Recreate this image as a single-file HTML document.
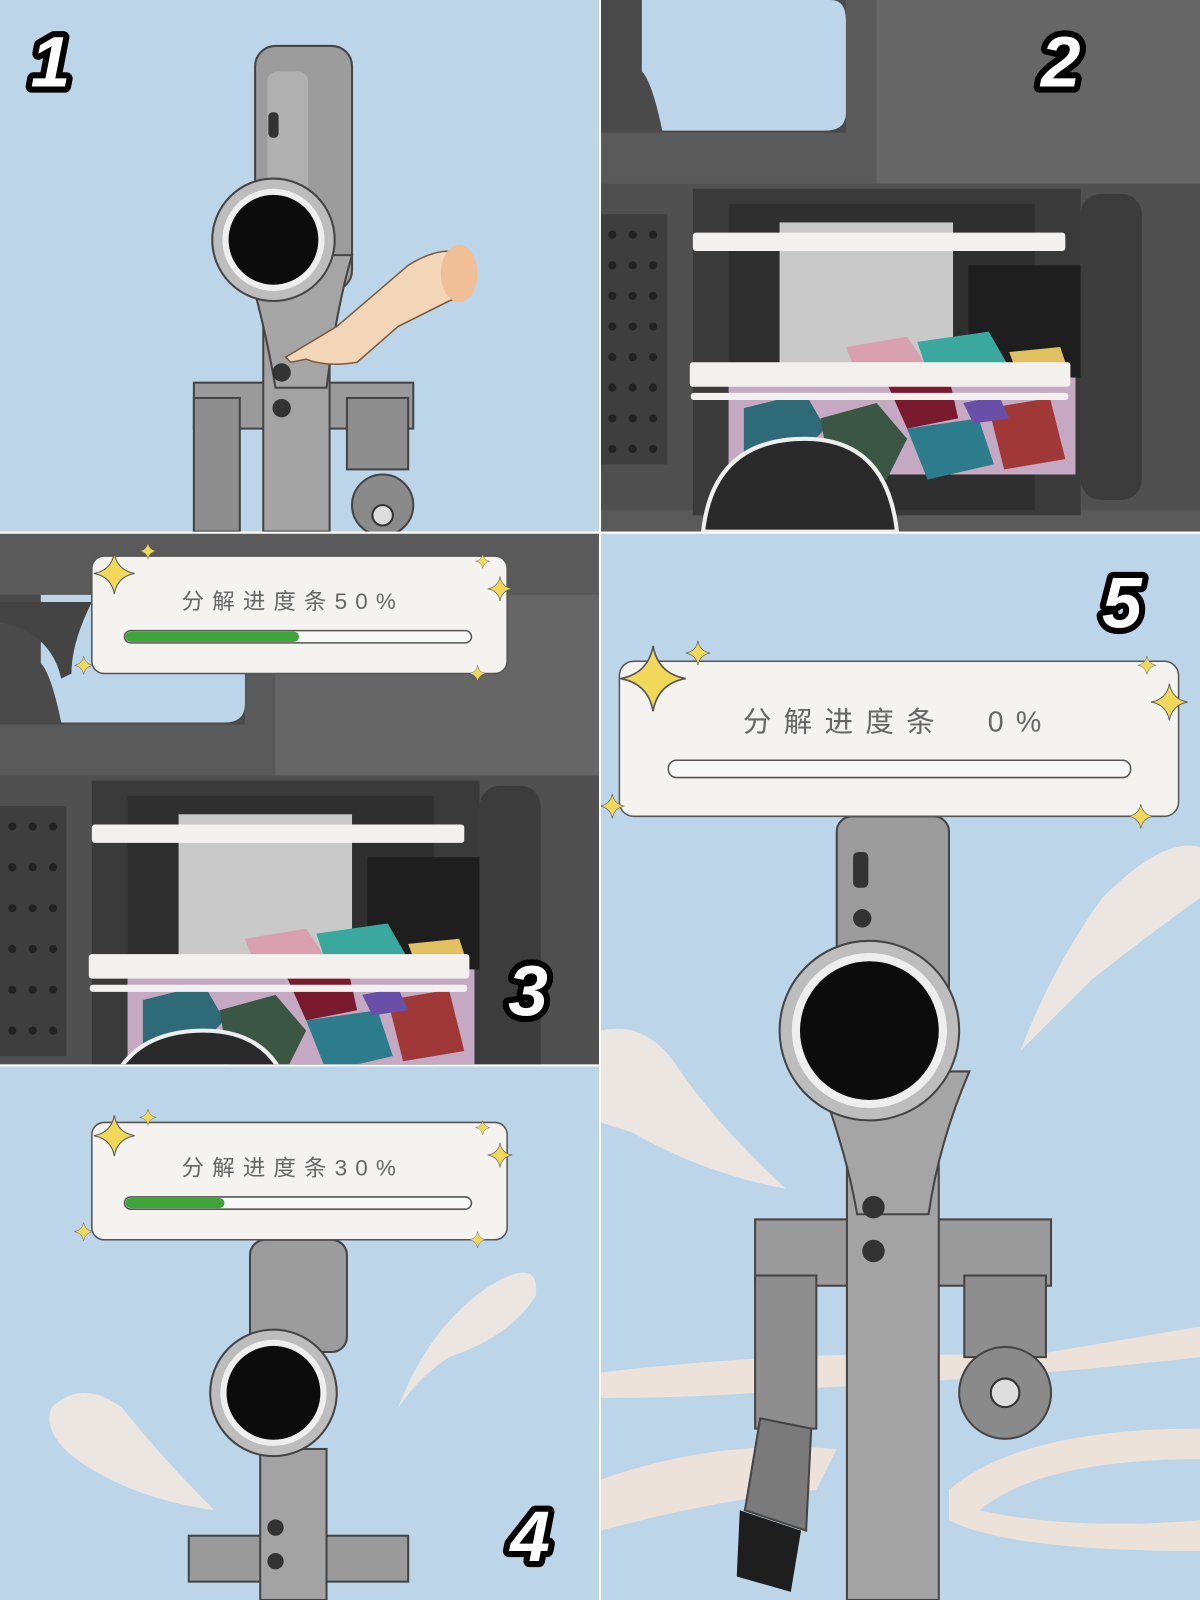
<!DOCTYPE html>
<html><head><meta charset="utf-8"><style>
html,body{margin:0;padding:0;background:#fff;width:1200px;height:1600px;overflow:hidden}
svg{display:block}
.num{font-family:"Liberation Sans",sans-serif;font-weight:bold;font-style:italic;font-size:70px;fill:#fff;stroke:#000;stroke-width:12px;paint-order:stroke;stroke-linejoin:round}
.cap{font-family:"Liberation Sans","Noto Sans CJK SC",sans-serif;fill:#666;letter-spacing:8px}
</style></head><body>
<svg width="1200" height="1600" viewBox="0 0 1176 1568" preserveAspectRatio="none" xmlns="http://www.w3.org/2000/svg">
<defs>
<clipPath id="c1"><rect x="0" y="0" width="587" height="521"/></clipPath>
<clipPath id="c2"><rect x="589" y="0" width="587" height="521"/></clipPath>
<clipPath id="c3"><rect x="0" y="523" width="587" height="520"/></clipPath>
<clipPath id="c4"><rect x="0" y="1045" width="587" height="523"/></clipPath>
<clipPath id="c5"><rect x="589" y="523" width="587" height="1045"/></clipPath>
<path id="star" d="M0 -20 Q3 -3 20 0 Q3 3 0 20 Q-3 3 -20 0 Q-3 -3 0 -20Z" fill="#f2d85a" stroke="#555" stroke-width="1"/>
<g id="drum">
 <rect x="0" y="0" width="587" height="521" fill="#5a5a5a"/>
 <path d="M0 0 H240 V130 H0 Z" fill="#4a4a4a"/>
 <path d="M10 0 H225 Q240 0 240 20 V110 Q240 128 220 128 H60 Q50 80 40 70 L40 0 Z" fill="#bcd5e8"/>
 <rect x="270" y="0" width="317" height="195" fill="#666"/>
 <rect x="0" y="180" width="587" height="320" fill="#505050"/>
 <rect x="0" y="210" width="65" height="245" fill="#3e3e3e"/>
 <rect x="90" y="185" width="380" height="320" fill="#3a3a3a"/>
 <rect x="125" y="200" width="300" height="300" fill="#2f2f2f"/>
 <rect x="175" y="218" width="170" height="150" fill="#c9c9c9"/>
 <rect x="360" y="260" width="110" height="110" fill="#1e1e1e"/>
 <rect x="125" y="370" width="340" height="95" fill="#c5a9c2"/>
 <polygon points="140,400 200,385 220,420 180,460 140,455" fill="#2f6a78"/>
 <polygon points="215,410 270,395 300,430 280,470 225,465" fill="#3c5646"/>
 <polygon points="280,375 340,365 350,410 300,420" fill="#7a1a2e"/>
 <polygon points="300,420 370,410 385,455 320,470" fill="#2d7c8c"/>
 <polygon points="380,400 440,390 455,450 395,460" fill="#a03838"/>
 <polygon points="240,340 300,330 320,360 250,365" fill="#d8a0b0"/>
 <polygon points="310,335 380,325 400,360 320,365" fill="#3aa89c"/>
 <polygon points="400,345 450,340 460,370 410,372" fill="#e0c060"/>
 <polygon points="355,395 390,388 400,410 365,415" fill="#6a4fa8"/>
 <rect x="470" y="190" width="60" height="300" rx="20" fill="#3c3c3c"/>
 <path d="M100 521 Q110 430 200 430 Q280 430 290 521 Z" fill="#2a2a2a" stroke="#eee" stroke-width="4"/>
 <rect x="90" y="228" width="365" height="18" rx="3" fill="#f3f1ef"/>
 <rect x="87" y="355" width="373" height="24" rx="3" fill="#f3f1ef"/>
 <rect x="88" y="385" width="370" height="7" rx="3" fill="#f3f1ef"/>
</g>
</defs>

<!-- Panel 1 -->
<g clip-path="url(#c1)">
 <rect x="0" y="0" width="587" height="521" fill="#bcd5e8"/>
 <rect x="250" y="45" width="95" height="240" rx="20" fill="#9c9c9c" stroke="#444" stroke-width="2"/>
 <rect x="262" y="70" width="40" height="210" rx="10" fill="#b0b0b0"/>
 <rect x="263" y="110" width="10" height="25" rx="4" fill="#333"/>
 <rect x="190" y="375" width="215" height="45" fill="#9a9a9a" stroke="#444" stroke-width="2"/>
 <rect x="190" y="390" width="45" height="131" fill="#8e8e8e" stroke="#444" stroke-width="2"/>
 <rect x="340" y="390" width="60" height="70" fill="#8e8e8e" stroke="#444" stroke-width="2"/>
 <circle cx="375" cy="495" r="30" fill="#8a8a8a" stroke="#444" stroke-width="2"/>
 <circle cx="375" cy="505" r="10" fill="#ddd" stroke="#333" stroke-width="2"/>
 <rect x="258" y="290" width="65" height="231" fill="#a3a3a3" stroke="#444" stroke-width="2"/>
 <path d="M240 250 Q260 320 270 380 L320 380 Q330 300 345 250 Z" fill="#a5a5a5" stroke="#444" stroke-width="2"/>
 <circle cx="276" cy="365" r="9" fill="#333"/>
 <circle cx="276" cy="400" r="9" fill="#333"/>
 <circle cx="268" cy="235" r="60" fill="#bdbdbd" stroke="#444" stroke-width="2"/>
 <circle cx="268" cy="235" r="50" fill="#eee"/>
 <circle cx="268" cy="235" r="44" fill="#0c0c0c"/>
 <path d="M280 350 L330 320 L400 260 Q440 235 465 255 Q470 285 440 295 L390 320 L350 355 Q320 360 300 352 L285 355 Z" fill="#f3d6b8" stroke="#7a5a40" stroke-width="1.5"/>
 <ellipse cx="450" cy="268" rx="18" ry="28" fill="#f0bf98"/>
 <text class="num" x="30" y="85">1</text>
</g>

<!-- Panel 2 -->
<g clip-path="url(#c2)">
 <use href="#drum" x="589" y="0"/>
 <g fill="#222">
  <circle cx="600" cy="230" r="4"/><circle cx="620" cy="230" r="4"/><circle cx="640" cy="230" r="4"/>
  <circle cx="600" cy="260" r="4"/><circle cx="620" cy="260" r="4"/><circle cx="640" cy="260" r="4"/>
  <circle cx="600" cy="290" r="4"/><circle cx="620" cy="290" r="4"/><circle cx="640" cy="290" r="4"/>
  <circle cx="600" cy="320" r="4"/><circle cx="620" cy="320" r="4"/><circle cx="640" cy="320" r="4"/>
  <circle cx="600" cy="350" r="4"/><circle cx="620" cy="350" r="4"/><circle cx="640" cy="350" r="4"/>
  <circle cx="600" cy="380" r="4"/><circle cx="620" cy="380" r="4"/><circle cx="640" cy="380" r="4"/>
  <circle cx="600" cy="410" r="4"/><circle cx="620" cy="410" r="4"/><circle cx="640" cy="410" r="4"/>
  <circle cx="600" cy="440" r="4"/><circle cx="620" cy="440" r="4"/><circle cx="640" cy="440" r="4"/>
 </g>
 <text class="num" x="1020" y="85">2</text>
</g>

<!-- Panel 3 -->
<g clip-path="url(#c3)">
 <use href="#drum" x="0" y="580"/>
 <rect x="0" y="523" width="587" height="60" fill="#5a5a5a"/>
 <path d="M0 590 H90 Q70 630 70 660 L60 665 Q50 620 0 610 Z" fill="#444"/>
 <g fill="#222">
  <circle cx="12" cy="810" r="4"/><circle cx="32" cy="810" r="4"/><circle cx="52" cy="810" r="4"/>
  <circle cx="12" cy="850" r="4"/><circle cx="32" cy="850" r="4"/><circle cx="52" cy="850" r="4"/>
  <circle cx="12" cy="890" r="4"/><circle cx="32" cy="890" r="4"/><circle cx="52" cy="890" r="4"/>
  <circle cx="12" cy="930" r="4"/><circle cx="32" cy="930" r="4"/><circle cx="52" cy="930" r="4"/>
  <circle cx="12" cy="970" r="4"/><circle cx="32" cy="970" r="4"/><circle cx="52" cy="970" r="4"/>
  <circle cx="12" cy="1010" r="4"/><circle cx="32" cy="1010" r="4"/><circle cx="52" cy="1010" r="4"/>
 </g>
 <rect x="90" y="545" width="407" height="115" rx="12" fill="#f5f3ef" stroke="#555" stroke-width="1.5"/>
 <text class="cap" x="178" y="597" font-size="22">分解进度条50%</text>
 <rect x="122" y="618" width="340" height="12" rx="6" fill="#f8f8f8" stroke="#555" stroke-width="1.5"/>
 <rect x="123" y="619" width="170" height="10" rx="5" fill="#3fa43a"/>
 <use href="#star" x="112" y="562"/>
 <use href="#star" transform="translate(145,540) scale(0.4)"/>
 <use href="#star" transform="translate(490,577) scale(0.6)"/>
 <use href="#star" transform="translate(473,550) scale(0.35)"/>
 <use href="#star" transform="translate(82,652) scale(0.45)"/>
 <use href="#star" transform="translate(468,660) scale(0.4)"/>
 <text class="num" x="498" y="995">3</text>
</g>

<!-- Panel 4 -->
<g clip-path="url(#c4)">
 <rect x="0" y="1045" width="587" height="523" fill="#bcd5e8"/>
 <path d="M50 1380 Q80 1350 120 1380 Q160 1430 210 1480 Q140 1470 90 1440 Q40 1410 50 1380Z" fill="#ece6e2"/>
 <path d="M390 1380 Q420 1300 480 1260 Q530 1230 525 1270 Q500 1310 440 1330 Q410 1350 390 1380Z" fill="#ece6e2"/>
 <rect x="245" y="1215" width="95" height="110" rx="15" fill="#9c9c9c" stroke="#444" stroke-width="2"/>
 <rect x="185" y="1505" width="215" height="45" fill="#9a9a9a" stroke="#444" stroke-width="2"/>
 <rect x="255" y="1420" width="65" height="148" fill="#a3a3a3" stroke="#444" stroke-width="2"/>
 <circle cx="270" cy="1497" r="8" fill="#333"/>
 <circle cx="270" cy="1530" r="8" fill="#333"/>
 <circle cx="268" cy="1365" r="62" fill="#bdbdbd" stroke="#444" stroke-width="2"/>
 <circle cx="268" cy="1365" r="52" fill="#eee"/>
 <circle cx="268" cy="1365" r="46" fill="#0c0c0c"/>
 <rect x="90" y="1100" width="407" height="115" rx="12" fill="#f5f3ef" stroke="#555" stroke-width="1.5"/>
 <text class="cap" x="178" y="1152" font-size="22">分解进度条30%</text>
 <rect x="122" y="1173" width="340" height="12" rx="6" fill="#f8f8f8" stroke="#555" stroke-width="1.5"/>
 <rect x="123" y="1174" width="97" height="10" rx="5" fill="#3fa43a"/>
 <use href="#star" x="112" y="1113"/>
 <use href="#star" transform="translate(145,1095) scale(0.4)"/>
 <use href="#star" transform="translate(490,1132) scale(0.6)"/>
 <use href="#star" transform="translate(473,1105) scale(0.35)"/>
 <use href="#star" transform="translate(82,1207) scale(0.45)"/>
 <use href="#star" transform="translate(468,1215) scale(0.4)"/>
 <text class="num" x="500" y="1530">4</text>
</g>

<!-- Panel 5 -->
<g clip-path="url(#c5)">
 <rect x="589" y="523" width="587" height="1045" fill="#bcd5e8"/>
 <path d="M589 1010 Q630 1000 660 1040 Q700 1100 770 1165 Q690 1150 620 1110 L589 1100Z" fill="#ece6e2"/>
 <path d="M1000 1030 Q1030 950 1080 880 Q1140 820 1176 830 L1176 880 Q1120 920 1070 960 Q1030 1000 1000 1030Z" fill="#ece6e2"/>
 <path d="M589 1345 Q800 1320 1000 1330 L1176 1300 V1330 Q1000 1350 800 1360 Q700 1370 589 1370Z" fill="#ece2da"/>
 <path d="M589 1450 Q700 1410 820 1420 L800 1460 Q700 1470 589 1500Z" fill="#ece2da"/>
 <path d="M930 1460 Q1000 1400 1176 1400 V1430 Q1020 1430 960 1480 Q1050 1500 1176 1490 V1520 Q990 1520 930 1490Z" fill="#ece2da"/>
 <rect x="820" y="800" width="110" height="200" rx="15" fill="#9c9c9c" stroke="#444" stroke-width="2"/>
 <rect x="836" y="835" width="15" height="35" rx="5" fill="#333"/>
 <circle cx="845" cy="900" r="9" fill="#333"/>
 <rect x="740" y="1195" width="290" height="65" fill="#9a9a9a" stroke="#444" stroke-width="2"/>
 <rect x="740" y="1250" width="60" height="150" fill="#8e8e8e" stroke="#444" stroke-width="2"/>
 <path d="M745 1390 L730 1480 L790 1500 L795 1400Z" fill="#7a7a7a" stroke="#444" stroke-width="2"/>
 <path d="M725 1480 L785 1500 L775 1560 L722 1545Z" fill="#1e1e1e"/>
 <rect x="945" y="1250" width="80" height="80" fill="#8e8e8e" stroke="#444" stroke-width="2"/>
 <circle cx="985" cy="1365" r="45" fill="#8a8a8a" stroke="#444" stroke-width="2"/>
 <circle cx="985" cy="1365" r="14" fill="#ddd" stroke="#333" stroke-width="2"/>
 <rect x="830" y="1090" width="90" height="478" fill="#a3a3a3" stroke="#444" stroke-width="2"/>
 <path d="M800 1050 Q830 1130 840 1190 L910 1190 Q920 1120 950 1050Z" fill="#a5a5a5" stroke="#444" stroke-width="2"/>
 <circle cx="856" cy="1183" r="11" fill="#333"/>
 <circle cx="856" cy="1226" r="11" fill="#333"/>
 <circle cx="852" cy="1010" r="88" fill="#bdbdbd" stroke="#444" stroke-width="2"/>
 <circle cx="852" cy="1010" r="76" fill="#eee"/>
 <circle cx="852" cy="1010" r="68" fill="#0c0c0c"/>
 <rect x="607" y="648" width="548" height="152" rx="14" fill="#f5f3ef" stroke="#555" stroke-width="1.5"/>
 <text class="cap" x="728" y="717" font-size="28" style="letter-spacing:12px">分解进度条　0%</text>
 <rect x="655" y="745" width="453" height="17" rx="8" fill="#f8f8f8" stroke="#555" stroke-width="1.5"/>
 <use href="#star" transform="translate(640,665) scale(1.6)"/>
 <use href="#star" transform="translate(684,640) scale(0.6)"/>
 <use href="#star" transform="translate(1146,688) scale(0.9)"/>
 <use href="#star" transform="translate(1124,652) scale(0.45)"/>
 <use href="#star" transform="translate(600,790) scale(0.6)"/>
 <use href="#star" transform="translate(1118,800) scale(0.6)"/>
 <text class="num" x="1080" y="615">5</text>
</g>
</svg>
</body></html>
